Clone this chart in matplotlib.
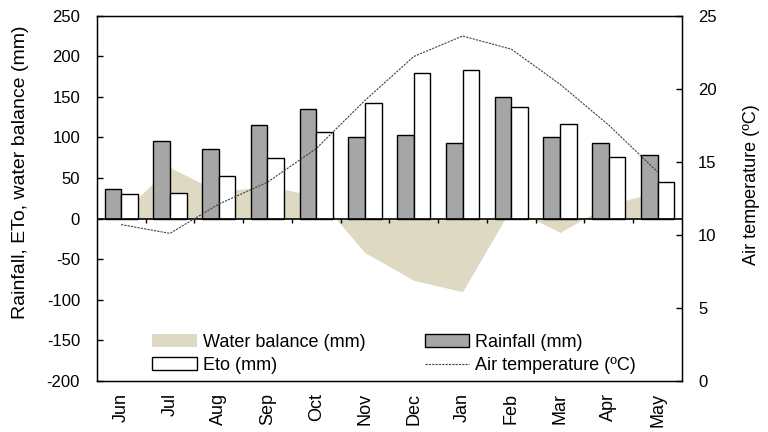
import matplotlib.pyplot as plt
import numpy as np

plt.rcParams['font.family'] = ['Liberation Sans', 'DejaVu Sans']
plt.rcParams['font.size'] = 12
plt.rcParams['axes.unicode_minus'] = False

months = ['Jun', 'Jul', 'Aug', 'Sep', 'Oct', 'Nov', 'Dec', 'Jan', 'Feb', 'Mar', 'Apr', 'May']
rainfall = [36, 95, 86, 115, 135, 100, 103, 93, 150, 100, 93, 78]
eto = [30, 32, 53, 75, 107, 142, 179, 183, 137, 117, 76, 45]
water_balance = [6, 63, 33, 40, 28, -42, -76, -90, 13, -17, 17, 33]
air_temp = [10.7, 10.1, 12.1, 13.6, 15.9, 19.2, 22.2, 23.6, 22.7, 20.3, 17.5, 14.3]

fig, ax = plt.subplots(figsize=(7.68, 4.32), dpi=100)
fig.subplots_adjust(left=0.126, right=0.888, bottom=0.118, top=0.964)

x = np.arange(len(months))
w = 0.34

# water balance as area behind the bars
ax.fill_between(x, 0, water_balance, color='#DDD9C3', lw=0, zorder=1, label='Water balance (mm)')
ax.bar(x - w / 2, rainfall, w, color='#A6A6A6', edgecolor='black', lw=1.0, zorder=2, label='Rainfall (mm)')
ax.bar(x + w / 2, eto, w, color='white', edgecolor='black', lw=1.0, zorder=2, label='Eto (mm)')

# zero line with category tick marks (excel style)
ax.axhline(0, color='black', lw=1.2, zorder=3)
ax.vlines(np.arange(0.5, len(months) - 1), -6, 0, color='black', lw=1.0, zorder=3)

ax.set_xlim(-0.5, len(months) - 0.5)
ax.set_ylim(-200, 250)
ax.set_yticks(np.arange(-200, 251, 50))
ax.set_xticks(x)
ax.set_xticklabels(months, rotation=90, fontsize=13)
ax.tick_params(axis='x', length=0, pad=8.5)
ax.tick_params(axis='y', direction='in', length=4, width=1.0, pad=12)
ax.set_ylabel('Rainfall, ETo, water balance (mm)', fontsize=14)
ax.yaxis.set_label_coords(-0.115, 0.571)
for s in ax.spines.values():
    s.set_linewidth(1.0)

ax2 = ax.twinx()
ax2.plot(x, air_temp, color='#444444', lw=0.8, ls=(0, (2, 1)), label='Air temperature (ºC)')
ax2.set_ylim(0, 25)
ax2.set_yticks(np.arange(0, 26, 5))
ax2.tick_params(axis='y', direction='in', length=4, width=1.0, pad=11.5)
ax2.set_ylabel('Air temperature (ºC)', fontsize=13)
ax2.yaxis.set_label_coords(1.104, 0.537)

h1, l1 = ax.get_legend_handles_labels()
h2, l2 = ax2.get_legend_handles_labels()
handles = [h1[0], h1[2], h1[1], h2[0]]
labels = [l1[0], l1[2], l1[1], l2[0]]
ax2.legend(handles, labels, ncol=2, frameon=False, loc='upper left',
           bbox_to_anchor=(0.095, 0.13), fontsize=13, handlelength=2.45,
           handletextpad=0.33, columnspacing=3.3, labelspacing=0.35,
           borderpad=0, borderaxespad=0)

fig.savefig('out.png', dpi=100)
